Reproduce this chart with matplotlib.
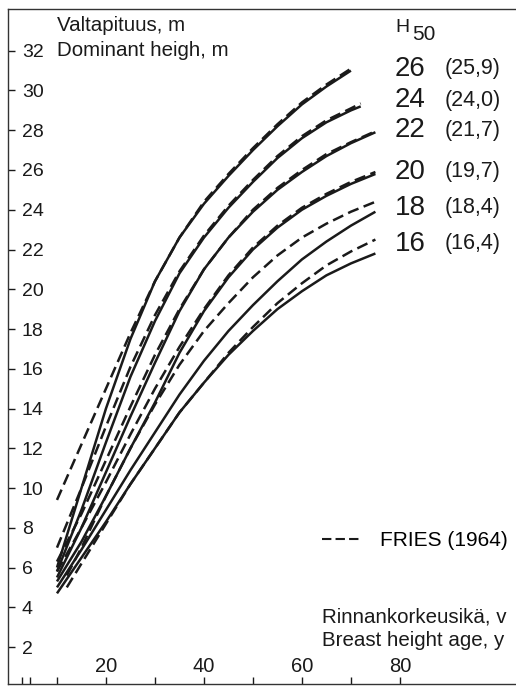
import matplotlib
matplotlib.use("Agg")
import matplotlib.pyplot as plt
from matplotlib.lines import Line2D

plt.rcParams["font.family"] = ["Liberation Sans", "DejaVu Sans"]

# site classes (H50) and the matching Fries (1964) classes
site_labels = ["26", "24", "22", "20", "18", "16"]
fries_labels = ["(25,9)", "(24,0)", "(21,7)", "(19,7)", "(18,4)", "(16,4)"]

# breast height ages used for each curve
age70 = [10, 15, 20, 25, 30, 35, 40, 45, 50, 55, 60, 65, 70]
age72 = [10, 15, 20, 25, 30, 35, 40, 45, 50, 55, 60, 65, 70, 72]
age75 = [10, 15, 20, 25, 30, 35, 40, 45, 50, 55, 60, 65, 70, 75]
age75_late = [12, 15, 20, 25, 30, 35, 40, 45, 50, 55, 60, 65, 70, 75]

# dominant height, m -- this study (solid)
h26 = [6.0, 10.0, 14.0, 17.5, 20.4, 22.6, 24.3, 25.7, 27.0, 28.2, 29.3, 30.2, 31.0]
h24 = [5.8, 8.9, 12.3, 15.6, 18.4, 20.8, 22.6, 24.1, 25.4, 26.6, 27.6, 28.4, 29.0, 29.2]
h22 = [5.5, 8.0, 10.8, 13.6, 16.3, 18.9, 21.0, 22.6, 23.9, 25.0, 25.9, 26.7, 27.35, 27.9]
h20 = [5.3, 7.3, 9.6, 12.0, 14.3, 16.8, 18.9, 20.6, 22.0, 23.1, 24.0, 24.7, 25.3, 25.8]
h18 = [5.0, 6.9, 8.9, 10.9, 12.8, 14.7, 16.4, 17.9, 19.2, 20.4, 21.5, 22.4, 23.2, 23.9]
h16 = [4.7, 6.5, 8.3, 10.2, 12.0, 13.8, 15.3, 16.7, 17.9, 19.0, 19.9, 20.7, 21.3, 21.8]

# dominant height, m -- Fries (1964) (dashed)
f26 = [9.4, 12.2, 15.0, 17.8, 20.4, 22.6, 24.4, 25.8, 27.1, 28.3, 29.4, 30.3, 31.1]
f24 = [7.0, 10.0, 13.1, 16.1, 18.7, 20.9, 22.7, 24.2, 25.5, 26.7, 27.7, 28.5, 29.1, 29.35]
f22 = [6.3, 8.7, 11.4, 14.1, 16.7, 19.0, 21.0, 22.6, 24.0, 25.1, 26.0, 26.8, 27.4, 27.95]
f20 = [5.8, 8.0, 10.3, 12.7, 15.0, 17.1, 19.0, 20.7, 22.1, 23.2, 24.1, 24.8, 25.4, 25.9]
f18 = [5.6, 7.0, 9.6, 12.0, 14.2, 16.2, 17.9, 19.3, 20.6, 21.7, 22.6, 23.3, 23.9, 24.4]
f16 = [5.0, 6.2, 8.2, 10.2, 12.0, 13.8, 15.3, 16.8, 18.1, 19.3, 20.3, 21.2, 21.9, 22.5]

solid = [(age70, h26), (age72, h24), (age75, h22), (age75, h20), (age75, h18), (age75, h16)]
dashed = [(age70, f26), (age72, f24), (age75, f22), (age75, f20),
          (age75_late, f18), (age75_late, f16)]

# vertical placement of the class labels at the right
label_y = [31.1, 29.5, 28.0, 25.9, 24.1, 22.3]

DASH = (0, (4.5, 2.2))
INK = "#1a1a1a"

fig = plt.figure(figsize=(5.16, 6.86), dpi=100)
ax = fig.add_axes([8 / 516, 2 / 686, 508 / 516, 675 / 686])

for x, y in solid:
    ax.plot(x, y, color=INK, lw=1.8, solid_capstyle="butt")
for x, y in dashed:
    ax.plot(x, y, color=INK, lw=1.8, ls=DASH, dash_capstyle="butt")

ax.set_xlim(0, 103.7)
ax.set_ylim(0.14, 34.1)
ax.spines["right"].set_visible(False)
for s in ("left", "top", "bottom"):
    ax.spines[s].set_linewidth(1.0)
    ax.spines[s].set_color("#333333")

# y ticks point inward, labels sit inside the frame
ax.set_yticks(range(2, 33, 2))
ax.tick_params(axis="y", direction="in", length=5, width=1, pad=-10,
               labelsize=14, colors=INK)
for lab in ax.get_yticklabels():
    lab.set_horizontalalignment("left")

ax.set_xticks(range(10, 81, 10))
ax.set_xticklabels(["", "20", "", "40", "", "60", "", "80"])
ax.set_xticks([2.8, 4.4], minor=True)
ax.tick_params(axis="x", which="both", direction="in", length=5, width=1,
               pad=-5.5, labelsize=14.5, colors=INK)
for lab in ax.get_xticklabels():
    lab.set_verticalalignment("bottom")

ax.text(10, 33.25, "Valtapituus, m", fontsize=14.8, va="center", ha="left", color=INK)
ax.text(10, 32.0, "Dominant heigh, m", fontsize=14.8, va="center", ha="left", color=INK)

ax.text(79, 33.15, "H", fontsize=14, va="center", ha="left", color=INK)
ax.text(82.6, 32.8, "50", fontsize=15, va="center", ha="left", color=INK)
for lab, flab, y in zip(site_labels, fries_labels, label_y):
    ax.text(79, y, lab, fontsize=20, va="center", ha="left", color=INK)
    ax.text(89.2, y, flab, fontsize=15.5, va="center", ha="left", color=INK)

ax.legend(handles=[Line2D([], [], color=INK, lw=1.5, ls=(0, (4.5, 2.0)))],
          labels=["FRIES (1964)"], loc="center left",
          bbox_to_anchor=(0.618, 0.212), frameon=False, fontsize=15,
          handlelength=1.8, handletextpad=1.0, borderpad=0, borderaxespad=0)

ax.text(64.1, 3.5, "Rinnankorkeusikä, v", fontsize=14.8, va="center", ha="left", color=INK)
ax.text(64.1, 2.35, "Breast height age, y", fontsize=14.8, va="center", ha="left", color=INK)

fig.savefig("out.png", dpi=100)
